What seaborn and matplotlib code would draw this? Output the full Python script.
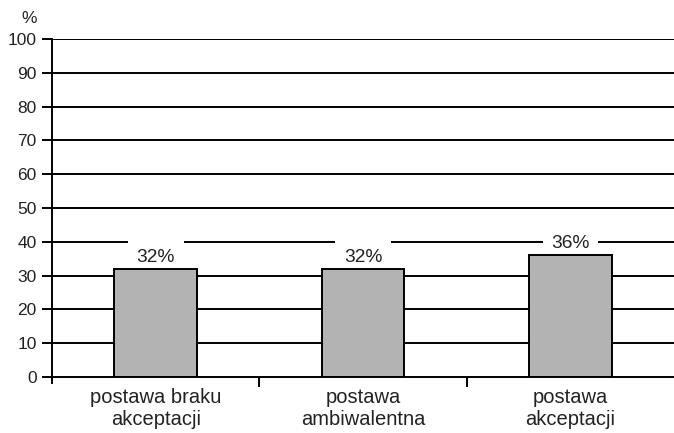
import matplotlib
matplotlib.use("Agg")
import matplotlib.pyplot as plt
import seaborn as sns
import pandas as pd

categories = ["postawa braku\nakceptacji", "postawa\nambiwalentna", "postawa\nakceptacji"]
values = [32, 32, 36]
y_ticks = [0, 10, 20, 30, 40, 50, 60, 70, 80, 90, 100]

sns.set_theme(style="white")
plt.rcParams["font.family"] = ["Liberation Sans", "DejaVu Sans"]

df = pd.DataFrame({"kategoria": categories, "procent": values})

fig = plt.figure(figsize=(6.74, 4.33), dpi=100)
ax = fig.add_axes([0.0772, 0.1293, 0.9228, 0.7807])

for t in y_ticks[1:]:
    ax.axhline(t, color="black", lw=1.4, zorder=0)

sns.barplot(data=df, x="kategoria", y="procent", color="#b3b3b3",
            edgecolor="black", linewidth=1.4, width=0.4, saturation=1,
            ax=ax, zorder=2)

# value labels sit on a white patch that interrupts the gridline behind them
for i, v in enumerate(values):
    ax.annotate(f"{v}%", xy=(i, v), xytext=(0, 8.5), textcoords="offset points",
                ha="center", va="center", fontsize=13.8, color="#222222",
                bbox=dict(boxstyle="square,pad=0.45", fc="white", ec="none"),
                zorder=1.5)

ax.set_xlim(-0.5, 2.5)
ax.set_ylim(0, 100)
ax.set_yticks(y_ticks)
ax.set_xlabel("")
ax.set_ylabel("")
ax.tick_params(axis="y", which="major", length=7, width=1.4, color="black",
               left=True, labelsize=12.5, pad=4, labelcolor="#222222")
ax.tick_params(axis="x", which="major", length=0, labelsize=14.5, pad=8,
               labelcolor="#222222")
for lbl in ax.get_xticklabels():
    lbl.set_linespacing(1.2)
ax.set_xticks([0.5, 1.5], minor=True)
ax.tick_params(axis="x", which="minor", length=7, width=1.4, color="black",
               bottom=True, direction="out")

for side in ["top", "right"]:
    ax.spines[side].set_visible(False)
for side in ["left", "bottom"]:
    ax.spines[side].set_color("black")
    ax.spines[side].set_linewidth(1.4)
ax.spines["left"].set_bounds(-1.8, 100)

fig.text(0.043, 0.957, "%", ha="center", va="center", fontsize=12.5, color="#222222")

fig.savefig("out.png", dpi=100)
